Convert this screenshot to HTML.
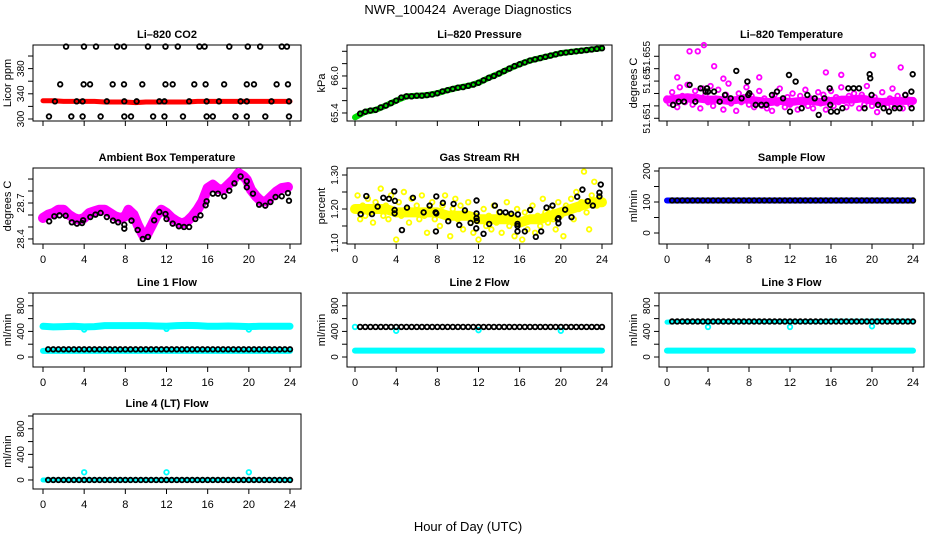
<!DOCTYPE html>
<html><head><meta charset="utf-8">
<style>
html,body{margin:0;padding:0;background:#fff;}
svg{display:block;font-family:"Liberation Sans",Arial,sans-serif;}
</style></head>
<body>
<svg id="chart" width="936" height="540" viewBox="0 0 936 540" xmlns="http://www.w3.org/2000/svg">
<rect x="0" y="0" width="936" height="540" fill="#fff"/>
<text x="468" y="14" font-size="13" text-anchor="middle">NWR_100424&#160; Average Diagnostics</text>
<text x="468" y="531" font-size="13" text-anchor="middle">Hour of Day (UTC)</text>
</svg>
<script>
// ---------- data ----------
const xTicks = [0,4,8,12,16,20,24];
const halfHours = [0.5,1,1.5,2,2.5,3,3.5,4,4.5,5,5.5,6,6.5,7,7.5,8,8.5,9,9.5,10,10.5,11,11.5,12,12.5,13,13.5,14,14.5,15,15.5,16,16.5,17,17.5,18,18.5,19,19.5,20,20.5,21,21.5,22,22.5,23,23.5,24];
const hours = [0,1,2,3,4,5,6,7,8,9,10,11,12,13,14,15,16,17,18,19,20,21,22,23,24];
const quarterHours = [];
for (let i = 0; i < 96; i++) quarterHours.push(i * 0.25);

// CO2
const co2Red = [329,329,328,328,328,328,327,327,327,326,327,327,327,327,327,328,328,328,328,328,328,328,328,328,328];
const co2BlackT = [2.24,3.98,5.15,7.2,7.87,10.2,11.9,13.1,15.2,15.7,18.1,19.9,21.1,23.2,23.7,
 1.67,3.95,4.57,6.77,7.87,9.65,11.9,12.6,14.7,15.8,17.6,19.8,20.5,22.7,23.8,
 0.58,2.75,3.85,5.6,7.9,8.55,10.7,11.8,13.6,15.9,16.5,18.7,19.8,21.6,23.9,
 1.16,3.27,3.85,6.2,7.9,9.1,11.3,11.8,14.2,15.9,17.1,19.2,19.8,22.2,23.9];
const co2BlackV = [415,415,415,415,415,415,415,415,415,415,415,415,415,415,415,
 355,355,355,355,355,355,355,355,355,355,355,355,355,355,355,
 304,304,304,304,304,304,304,304,304,304,304,304,304,304,304,
 328,328,328,328,328,328,328,328,328,328,328,328,328,328,328];

// Pressure
const pressGreen = [65.33,65.42,65.45,65.52,65.60,65.67,65.68,65.69,65.72,65.77,65.81,65.84,65.89,65.97,66.04,66.12,66.19,66.25,66.29,66.33,66.37,66.39,66.41,66.43,66.45];
const pressBlack = [65.39,65.42,65.44,65.45,65.49,65.52,65.56,65.60,65.65,65.67,65.67,65.68,65.68,65.69,65.70,65.72,65.75,65.77,65.79,65.81,65.82,65.84,65.86,65.89,65.93,65.97,66.00,66.04,66.08,66.12,66.16,66.19,66.22,66.25,66.27,66.29,66.31,66.33,66.35,66.37,66.38,66.39,66.40,66.41,66.42,66.43,66.44,66.45];

// Li-820 temperature (offset above 51.651 in mK)
const tempPink = [1.6,1.2,2.1,1.4,0.9,2.5,1.8,1.3,2.7,1.5,1.1,2.2,1.7,0.8,2.4,1.9,1.3,2.6,1.0,1.6,2.3,1.4,0.7,1.9,2.8,1.2,1.5,0.6,2.0,1.3,1.7,2.5,1.1,1.8,0.9,1.4,2.2,1.0,1.6,0.8,1.3,0.6,1.9,1.2,2.4,1.5,0.9,1.7,1.1,2.0,1.4,0.7,1.8,1.2,2.3,1.0,1.6,0.8,1.4,2.1,1.2,1.9,0.7,1.5,2.2,1.0,1.7,1.3,2.5,1.4,0.9,1.8,1.2,2.0,1.5,0.8,1.9,1.1,2.6,1.4,1.0,1.7,0.5,1.3,2.1,1.2,0.9,1.6,2.4,1.0,1.8,1.3,0.8,1.9,1.5,1.1];
const tempBand = [1.5,1.6,1.7,1.6,1.5,1.5,1.4,1.5,1.5,1.4,1.3,1.4,1.3,1.4,1.4,1.3,1.4,1.5,1.5,1.6,1.4,1.3,1.4,1.4,1.4];
const tempOutT = [2.2,3.0,3.6,4.6,1.0,20.1,22.8,15.5,17.0,5.5,9.0];
const tempOutV = [5.4,5.4,5.9,4.2,3.3,5.1,4.1,3.7,3.5,3.2,3.3];
const tempBlackT = [0.59,1.14,1.66,2.21,2.76,3.28,3.77,3.9,4.0,4.59,5.14,5.66,6.21,6.76,7.28,7.84,7.93,8.03,8.65,9.2,9.69,10.24,10.73,11.32,11.9,12.0,12.55,13.14,13.69,14.41,14.8,15.35,15.87,15.93,16.0,16.59,17.11,17.69,18.21,18.73,19.28,19.77,19.83,19.96,20.59,21.14,21.66,22.21,22.7,23.25,23.84,23.87,23.97];
const tempBlackV = [1.08,1.34,1.34,2.69,1.34,2.42,2.15,2.42,2.15,2.15,1.34,1.88,1.61,3.82,1.61,2.96,1.88,2.02,1.08,1.08,1.08,1.88,2.15,1.61,3.49,0.54,2.96,0.81,1.88,1.61,0.27,1.61,2.42,1.08,0.54,0.54,0.81,2.42,2.42,2.42,0.81,3.55,3.23,1.88,1.08,0.81,0.54,0.81,0.81,1.88,2.15,0.81,3.55];

// Ambient box temperature
const ambBandT = [0,0.5,1,1.5,2,2.5,3,3.5,4,4.5,5,5.5,6,6.5,7,7.5,8,8.3,8.8,9.2,9.7,10.1,10.6,11,11.5,12,12.5,13,13.5,14,14.5,15,15.5,16,16.5,17,17.5,18,18.5,19,19.5,19.8,20.2,20.7,21.2,21.7,22.2,22.7,23.2,23.8];
const ambBandV = [28.575,28.603,28.617,28.644,28.644,28.603,28.575,28.561,28.575,28.617,28.631,28.644,28.644,28.617,28.589,28.575,28.589,28.644,28.603,28.519,28.436,28.436,28.519,28.589,28.644,28.617,28.575,28.547,28.528,28.547,28.589,28.644,28.714,28.825,28.853,28.817,28.811,28.853,28.894,28.950,28.922,28.894,28.811,28.756,28.714,28.714,28.756,28.797,28.825,28.833];
const ambBlackT = [0.6,1.1,1.6,2.2,2.8,3.3,3.8,3.9,4.6,5.1,5.6,6.2,6.8,7.3,7.9,7.9,8.6,9.2,9.7,10.2,10.8,11.3,11.9,12.0,12.6,13.2,13.7,14.2,14.8,15.3,15.8,15.9,16.5,17.0,17.6,18.1,18.6,19.2,19.8,19.8,20.4,21.0,21.6,22.1,22.6,23.2,23.8,23.9];
const ambBlackV = [28.547,28.589,28.597,28.594,28.539,28.528,28.533,28.556,28.583,28.603,28.617,28.583,28.553,28.539,28.519,28.486,28.553,28.475,28.400,28.417,28.556,28.625,28.608,28.567,28.528,28.506,28.500,28.500,28.567,28.597,28.681,28.714,28.778,28.778,28.756,28.803,28.864,28.922,28.881,28.831,28.778,28.686,28.678,28.708,28.750,28.756,28.783,28.719];

// Gas stream RH
const rhYellow = [1.20,1.24,1.17,1.21,1.18,1.23,1.19,1.16,1.22,1.20,1.26,1.18,1.21,1.17,1.24,1.19,1.11,1.22,1.18,1.25,1.20,1.16,1.23,1.19,1.21,1.17,1.24,1.18,1.13,1.20,1.22,1.17,1.19,1.15,1.21,1.24,1.18,1.12,1.20,1.23,1.17,1.21,1.14,1.19,1.22,1.16,1.13,1.18,1.11,1.17,1.20,1.15,1.18,1.14,1.21,1.16,1.19,1.13,1.17,1.22,1.15,1.18,1.12,1.20,1.16,1.11,1.19,1.14,1.17,1.21,1.13,1.18,1.15,1.23,1.19,1.16,1.20,1.17,1.14,1.22,1.18,1.12,1.21,1.19,1.23,1.17,1.25,1.20,1.22,1.31,1.19,1.14,1.24,1.28,1.21,1.23];
const rhBand = [1.20,1.20,1.20,1.20,1.19,1.19,1.19,1.19,1.19,1.18,1.18,1.18,1.17,1.17,1.17,1.17,1.16,1.17,1.17,1.18,1.19,1.20,1.21,1.22,1.22];
const rhBlackT = [0.55,1.10,1.65,2.20,2.75,3.30,3.82,3.88,3.85,3.85,4.56,5.05,5.63,6.67,7.25,7.86,7.83,7.90,7.90,8.54,9.06,9.58,10.13,10.68,11.23,11.78,11.81,11.84,11.81,11.81,12.49,13.04,13.59,14.08,14.63,15.18,15.83,15.79,15.79,15.79,16.50,17.02,17.57,18.09,18.61,19.19,19.71,19.77,19.77,20.42,21.04,21.59,22.10,22.62,23.11,23.75,23.75,23.88];
const rhBlackV = [1.185,1.238,1.185,1.207,1.233,1.230,1.252,1.224,1.197,1.187,1.138,1.204,1.233,1.190,1.210,1.134,1.190,1.187,1.237,1.218,1.164,1.215,1.153,1.196,1.159,1.143,1.225,1.165,1.187,1.173,1.127,1.156,1.210,1.191,1.190,1.186,1.184,1.156,1.134,1.150,1.134,1.197,1.118,1.134,1.204,1.210,1.170,1.173,1.158,1.198,1.176,1.236,1.257,1.223,1.210,1.237,1.248,1.272];

// Sample flow
const sampleBlue = [105,105,105,105,105,105,105,105,105,105,105,105,105,105,105,105,105,105,105,105,105,105,105,105,105];
const sampleBlack = [105,105,105,105,105,105,105,105,105,105,105,105,105,105,105,105,105,105,105,105,105,105,105,105,105,105,105,105,105,105,105,105,105,105,105,105,105,105,105,105,105,105,105,105,105,105,105,105];

// Line 1
const l1CyanHigh = [480,470,475,480,470,475,490,490,490,490,490,485,480,490,495,490,480,480,485,480,475,480,480,480,480];
const l1CyanLow = [95,95,95,95,95,95,95,95,95,95,95,95,95,95,95,95,95,95,95,95,95,95,95,95,95];
const l1Black = [120,120,120,120,120,120,120,120,120,120,120,120,120,120,120,120,120,120,120,120,120,120,120,120,120,120,120,120,120,120,120,120,120,120,120,120,120,120,120,120,120,120,120,120,120,120,120,120];
const l1OutT = [4,12,20];
const l1OutV = [430,440,430];

// Line 2
const l2Black = [470,470,470,470,470,470,470,470,470,470,470,470,470,470,470,470,470,470,470,470,470,470,470,470,470,470,470,470,470,470,470,470,470,470,470,470,470,470,470,470,470,470,470,470,470,470,470,470];
const l2CyanLow = [100,100,100,100,100,100,100,100,100,100,100,100,100,100,100,100,100,100,100,100,100,100,100,100,100];
const l2OutT = [0,4,12,20];
const l2OutV = [470,410,420,410];

// Line 3
const l3Black = [555,555,555,555,555,555,555,555,555,555,555,555,555,555,555,555,555,555,555,555,555,555,555,555,555,555,555,555,555,555,555,555,555,555,555,555,555,555,555,555,555,555,555,555,555,555,555,555];
const l3CyanHigh = [545,555,555,555,555,555,555,555,555,555,555,555,555,555,555,555,560,560,560,560,560,565,560,560,560];
const l3CyanLow = [100,100,100,100,100,100,100,100,100,100,100,100,100,100,100,100,100,100,100,100,100,100,100,100,100];
const l3OutT = [4,12,20];
const l3OutV = [470,470,480];

// Line 4
const l4Black = [0,0,0,0,0,0,0,0,0,0,0,0,0,0,0,0,0,0,0,0,0,0,0,0,0,0,0,0,0,0,0,0,0,0,0,0,0,0,0,0,0,0,0,0,0,0,0,0];
const l4Cyan = [0,0,0,0,0,0,0,0,0,0,0,0,0,0,0,0,0,0,0,0,0,0,0,0,0];
const l4OutT = [4,12,20];
const l4OutV = [120,120,120];

// ---------- drawing ----------
const NS = "http://www.w3.org/2000/svg";
const svg = document.getElementById("chart");
const colL = [33,347,659], colR = [301,612,924], colX0 = [43,355,667], colX24 = [290,602,913];
const rowT = [45,168,293,414], rowB = [121,244,367,489];

function mk(tag, parent) {
  const e = document.createElementNS(NS, tag);
  parent.appendChild(e);
  return e;
}

function panel(col, row, name, title, ylab, lo, hi, ticks, labs, showX) {
  const g = mk("g", svg);
  
  
  const L = colL[col], R = colR[col], T = rowT[row], B = rowB[row];
  const xs = t => colX0[col] + (colX24[col] - colX0[col]) * t / 24;
  const ys = v => B - (v - lo) / (hi - lo) * (B - T);
  const box = mk("rect", g);
  
  
  box.setAttribute("x", L); box.setAttribute("y", T);
  box.setAttribute("width", R - L); box.setAttribute("height", B - T);
  box.setAttribute("fill", "none"); box.setAttribute("stroke", "#000"); box.setAttribute("stroke-width", "1");
  const tt = mk("text", g);
  
  
  tt.setAttribute("x", (L + R) / 2); tt.setAttribute("y", T - 7);
  tt.setAttribute("font-size", "11"); tt.setAttribute("font-weight", "bold"); tt.setAttribute("text-anchor", "middle");
  tt.textContent = title;
  const yl = mk("text", g);
  
  
  const yc = (T + B) / 2;
  yl.setAttribute("transform", "translate(" + (L - 22) + "," + yc + ") rotate(-90)");
  yl.setAttribute("font-size", "11"); yl.setAttribute("text-anchor", "middle");
  yl.textContent = ylab;
  ticks.forEach((v, i) => {
    const y = ys(v);
    const tk = mk("line", g);
    
    
    tk.setAttribute("x1", L - 5); tk.setAttribute("x2", L); tk.setAttribute("y1", y); tk.setAttribute("y2", y);
    tk.setAttribute("stroke", "#000");
    if (labs[i]) {
      const lt = mk("text", g);
      
      
      lt.setAttribute("transform", "translate(" + (L - 9) + "," + y + ") rotate(-90)");
      lt.setAttribute("font-size", "10"); lt.setAttribute("text-anchor", "middle");
      lt.textContent = labs[i];
    }
  });
  const ax = mk("line", g);
  ax.setAttribute("x1", L); ax.setAttribute("x2", L);
  ax.setAttribute("y1", ys(ticks[0])); ax.setAttribute("y2", ys(ticks[ticks.length - 1]));
  ax.setAttribute("stroke", "#000");
  xTicks.forEach(t => {
    const x = xs(t);
    const tk = mk("line", g);
    
    
    tk.setAttribute("x1", x); tk.setAttribute("x2", x); tk.setAttribute("y1", B); tk.setAttribute("y2", B + 5);
    tk.setAttribute("stroke", "#000");
    if (showX) {
      const lt = mk("text", g);
      
      
      lt.setAttribute("x", x); lt.setAttribute("y", B + 19);
      lt.setAttribute("font-size", "11"); lt.setAttribute("text-anchor", "middle");
      lt.textContent = String(t);
    }
  });
  return { g, xs, ys };
}

function points(p, name, ts, vs, color, r) {
  const g = mk("g", p.g);
  
  
  for (let i = 0; i < vs.length; i++) {
    const c = mk("circle", g);
    c.setAttribute("cx", p.xs(ts[i])); c.setAttribute("cy", p.ys(vs[i]));
    c.setAttribute("r", r || 2.3);
    c.setAttribute("fill", "none"); c.setAttribute("stroke", color); c.setAttribute("stroke-width", "1.8");
  }
}

function band(p, name, ts, vs, color, w) {
  const pl = mk("polyline", p.g);
  
  
  pl.setAttribute("points", vs.map((v, i) => p.xs(ts[i]) + "," + p.ys(v)).join(" "));
  pl.setAttribute("fill", "none"); pl.setAttribute("stroke", color);
  pl.setAttribute("stroke-width", w); pl.setAttribute("stroke-linejoin", "round"); pl.setAttribute("stroke-linecap", "round");
}

const flowTicks = [0,200,400,600,800,1000], flowLabs = ["0","","400","","800",""];

let p = panel(0, 0, "co2", "Li\u2013820 CO2", "Licor ppm", 296.8, 417.5, [300,320,340,360,380,400], ["300","","340","","380",""], false);
band(p, "co2-red-series", hours, co2Red, "#ff0000", 5);
points(p, "co2-black-series", co2BlackT, co2BlackV, "#000");

p = panel(1, 0, "pressure", "Li\u2013820 Pressure", "kPa", 65.27, 66.502, [65.4,65.6,65.8,66.0,66.2,66.4], ["65.4","","","66.0","",""], false);
band(p, "pressure-green-series", hours, pressGreen, "#00dd00", 6);
points(p, "pressure-black-series", halfHours, pressBlack, "#000");

const tempToC = a => a.map(u => 51.651 + u / 1000);
p = panel(2, 0, "li820-temp", "Li\u2013820 Temperature", "degrees C", 51.65078, 51.65691, [51.651,51.652,51.653,51.654,51.655,51.656], ["51.651","","","51.65","","51.655"], false);
band(p, "temp-magenta-band", hours, tempToC(tempBand), "#ff00ff", 8);
points(p, "temp-magenta-series", quarterHours, tempToC(tempPink), "#ff00ff");
points(p, "temp-magenta-outliers", tempOutT, tempToC(tempOutV), "#ff00ff");
points(p, "temp-black-series", tempBlackT, tempToC(tempBlackV), "#000");

p = panel(0, 1, "ambient", "Ambient Box Temperature", "degrees C", 28.358, 28.992, [28.4,28.5,28.6,28.7,28.8,28.9], ["28.4","","","28.7","",""], true);
band(p, "ambient-magenta-series", ambBandT, ambBandV, "#ff00ff", 10);
points(p, "ambient-black-series", ambBlackT, ambBlackV, "#000");

p = panel(1, 1, "rh", "Gas Stream RH", "percent", 1.097, 1.3206, [1.10,1.15,1.20,1.25,1.30], ["1.10","","1.20","","1.30"], true);
band(p, "rh-yellow-band", hours, rhBand, "#ffff00", 10);
points(p, "rh-yellow-series", quarterHours, rhYellow, "#ffff00");
points(p, "rh-black-series", rhBlackT, rhBlackV, "#000");

p = panel(2, 1, "sample-flow", "Sample Flow", "ml/min", -35.5, 209.7, [0,50,100,150,200], ["0","","100","","200"], true);
band(p, "sample-blue-series", hours, sampleBlue, "#0000ff", 6);
points(p, "sample-black-series", halfHours, sampleBlack, "#000");

p = panel(0, 2, "line1", "Line 1 Flow", "ml/min", -156, 1000, flowTicks, flowLabs, true);
band(p, "line1-cyan-high", hours, l1CyanHigh, "#00ffff", 7);
band(p, "line1-cyan-low", hours, l1CyanLow, "#00ffff", 6);
points(p, "line1-cyan-outliers", l1OutT, l1OutV, "#00ffff");
points(p, "line1-black-series", halfHours, l1Black, "#000");

p = panel(1, 2, "line2", "Line 2 Flow", "ml/min", -156, 1000, flowTicks, flowLabs, true);
band(p, "line2-cyan-low", hours, l2CyanLow, "#00ffff", 6);
points(p, "line2-cyan-outliers", l2OutT, l2OutV, "#00ffff");
points(p, "line2-black-series", halfHours, l2Black, "#000");

p = panel(2, 2, "line3", "Line 3 Flow", "ml/min", -156, 1000, flowTicks, flowLabs, true);
band(p, "line3-cyan-high", hours, l3CyanHigh, "#00ffff", 5);
band(p, "line3-cyan-low", hours, l3CyanLow, "#00ffff", 6);
points(p, "line3-cyan-outliers", l3OutT, l3OutV, "#00ffff");
points(p, "line3-black-series", halfHours, l3Black, "#000");

p = panel(0, 3, "line4", "Line 4 (LT) Flow", "ml/min", -141, 1031, flowTicks, flowLabs, true);
band(p, "line4-cyan-series", hours, l4Cyan, "#00ffff", 5);
points(p, "line4-cyan-outliers", l4OutT, l4OutV, "#00ffff");
points(p, "line4-black-series", halfHours, l4Black, "#000");
</script>
</body></html>
